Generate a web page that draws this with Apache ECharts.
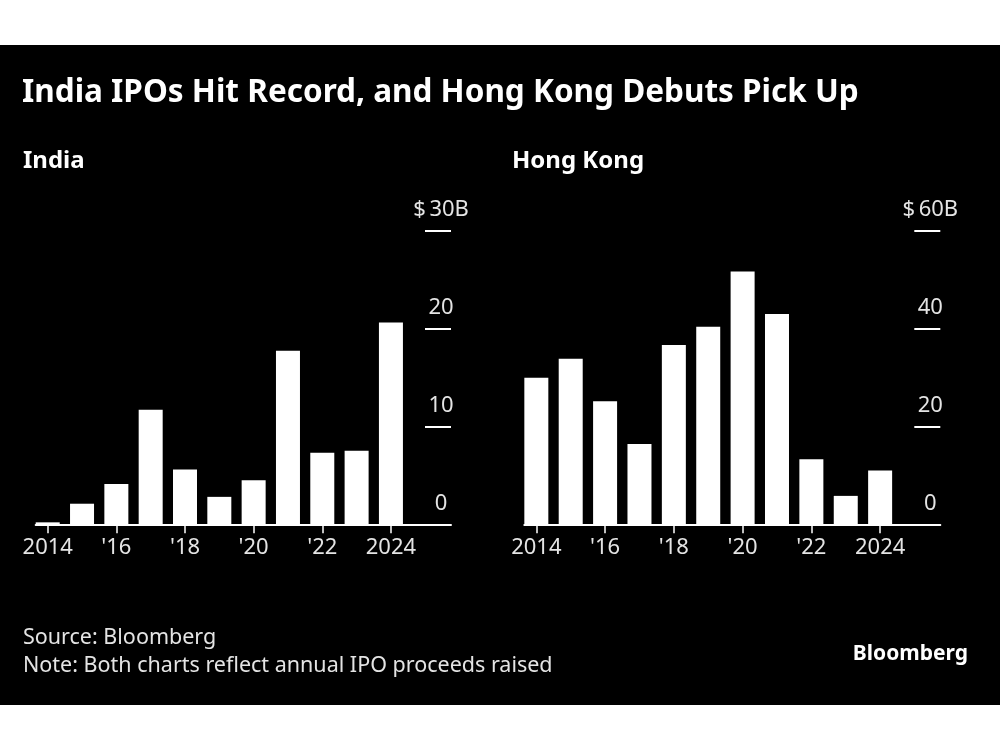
<!DOCTYPE html>
<html>
<head>
<meta charset="utf-8">
<script src="https://cdn.jsdelivr.net/npm/echarts@6/dist/echarts.min.js"></script>
<style>
html,body{margin:0;padding:0;background:#fff;}
#chart{width:1000px;height:750px;}
</style>
</head>
<body>
<div id="chart"></div>
<script>
const years = [2014, 2015, 2016, 2017, 2018, 2019, 2020, 2021, 2022, 2023, 2024];
const indiaValues = [0.2, 2.1, 4.1, 11.7, 5.6, 2.8, 4.5, 17.7, 7.3, 7.5, 20.6];
const hongKongValues = [29.9, 33.8, 25.1, 16.4, 36.6, 40.3, 51.6, 42.9, 13.3, 5.8, 11.0];
const labeledYears = [2014, 2016, 2018, 2020, 2022, 2024];
const indiaTicks = [0, 10, 20, 30];
const hongKongTicks = [0, 20, 40, 60];
const titleText = 'India IPOs Hit Record, and Hong Kong Debuts Pick Up';
const panelTitles = ['India', 'Hong Kong'];
const sourceText = 'Source: Bloomberg\nNote: Both charts reflect annual IPO proceeds raised';
const brandText = 'Bloomberg';

const FONT = '"Noto Sans", "Open Sans", sans-serif';
const LABEL_COLOR = '#e4e4e4';

function yearLabel(v) {
  const y = Math.round(v);
  if (y === years[0] || y === years[years.length - 1]) return String(y);
  return "'" + String(y).slice(2);
}

function pairs(vals) {
  return years.map((y, i) => [y, vals[i]]);
}

function xAxisCfg(gridIndex) {
  return {
    type: 'value',
    gridIndex: gridIndex,
    min: 2013.65,
    max: 2025.75,
    splitLine: { show: false },
    axisLine: { show: true, lineStyle: { color: '#ffffff', width: 2 } },
    axisTick: { show: true, customValues: labeledYears, length: 9, lineStyle: { color: '#ffffff', width: 1.5 } },
    axisLabel: {
      show: true,
      customValues: labeledYears,
      formatter: yearLabel,
      color: LABEL_COLOR,
      fontFamily: FONT,
      fontSize: 22,
      margin: 12
    }
  };
}

function yAxisCfg(gridIndex, ticks) {
  const maxV = ticks[ticks.length - 1];
  return {
    type: 'value',
    gridIndex: gridIndex,
    position: 'right',
    min: ticks[0],
    max: maxV,
    interval: ticks[1] - ticks[0],
    splitLine: { show: false },
    axisLine: { show: false },
    axisTick: { show: true, inside: true, length: 26, lineStyle: { color: '#ffffff', width: 2 } },
    axisLabel: {
      show: true,
      inside: true,
      margin: 10,
      align: 'center',
      verticalAlign: 'bottom',
      padding: [0, 0, 10, 0],
      color: LABEL_COLOR,
      fontFamily: FONT,
      fontSize: 22,
      formatter: function (v) {
        if (v === maxV) return '$\u2009' + v + 'B';
        return String(v);
      }
    }
  };
}

const chart = echarts.init(document.getElementById('chart'), null, { renderer: 'canvas' });

const option = {
  backgroundColor: '#ffffff',
  animation: false,
  graphic: [
    { type: 'rect', z: -10, silent: true, shape: { x: 0, y: 45, width: 1000, height: 660 }, style: { fill: '#000000' } }
  ],
  title: [
    { text: titleText, left: 22, top: 77.5, padding: 0,
      textStyle: { color: '#ffffff', fontFamily: FONT, fontWeight: 'bold', fontSize: 31.5 } },
    { text: panelTitles[0], left: 23, top: 149.5, padding: 0,
      textStyle: { color: '#ffffff', fontFamily: FONT, fontWeight: 'bold', fontSize: 24 } },
    { text: panelTitles[1], left: 512, top: 149.5, padding: 0,
      textStyle: { color: '#ffffff', fontFamily: FONT, fontWeight: 'bold', fontSize: 24 } },
    { text: sourceText, left: 23, top: 623.5, padding: 0,
      textStyle: { color: LABEL_COLOR, fontFamily: FONT, fontWeight: 'normal', fontSize: 21.5, lineHeight: 28 } },
    { text: brandText, right: 32, top: 644, padding: 0,
      textStyle: { color: '#ffffff', fontFamily: FONT, fontWeight: 'bold', fontSize: 21 } }
  ],
  grid: [
    { left: 35.7, top: 230.3, width: 415.3, height: 294 },
    { left: 524.3, top: 230.3, width: 416, height: 294 }
  ],
  xAxis: [xAxisCfg(0), xAxisCfg(1)],
  yAxis: [yAxisCfg(0, indiaTicks), yAxisCfg(1, hongKongTicks)],
  series: [
    { name: 'India', type: 'bar', xAxisIndex: 0, yAxisIndex: 0, barWidth: 24,
      itemStyle: { color: '#ffffff' }, data: pairs(indiaValues) },
    { name: 'Hong Kong', type: 'bar', xAxisIndex: 1, yAxisIndex: 1, barWidth: 24,
      itemStyle: { color: '#ffffff' }, data: pairs(hongKongValues) }
  ]
};

chart.setOption(option);
</script>
</body>
</html>
